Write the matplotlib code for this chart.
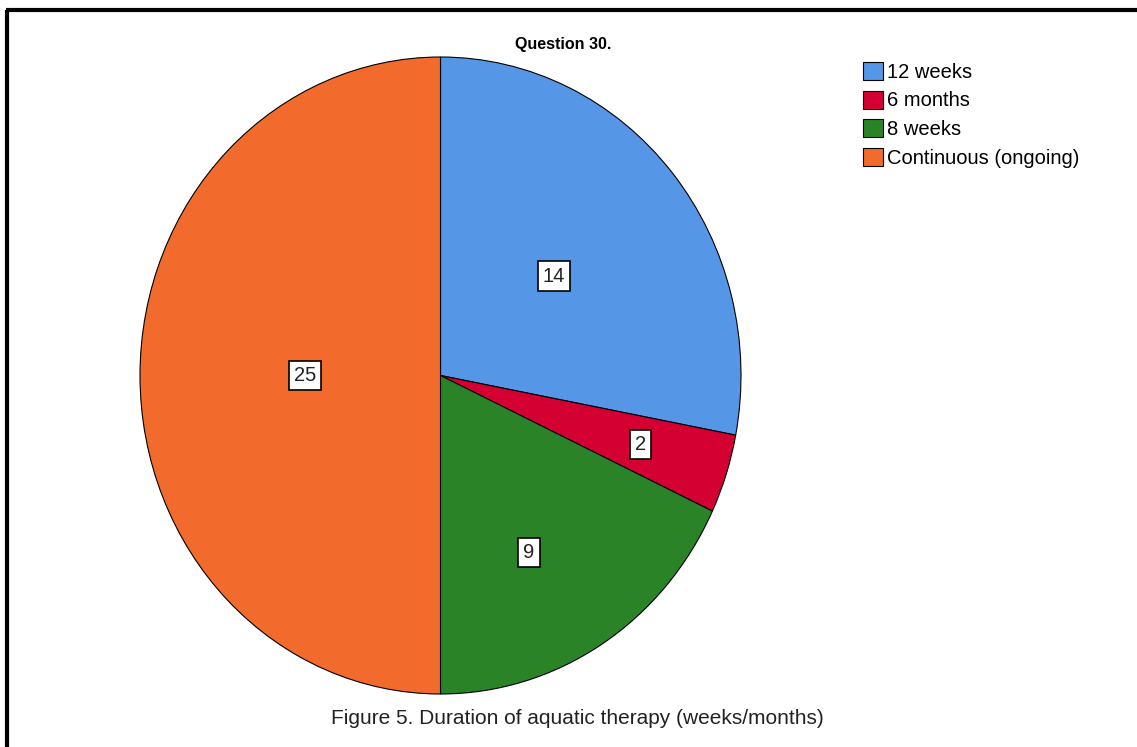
import numpy as np
import matplotlib.pyplot as plt
from matplotlib.patches import Patch

# --- Data ---
categories = ["12 weeks", "6 months", "8 weeks", "Continuous (ongoing)"]
counts = [14, 2, 9, 25]
colors = ["#5596E6", "#D50032", "#2A8427", "#F26A2C"]

# label placement inside slices (radius fraction, angle nudge in degrees)
label_dist = [0.49, 0.70, 0.63, 0.45]
label_nudge = [0, 0, -4.5, 0]

plt.rcParams['font.family'] = ['Liberation Sans', 'DejaVu Sans']

W, H = 1137, 747
fig = plt.figure(figsize=(W / 100, H / 100), dpi=100)

# pie area in pixel coords (slightly taller than wide, as in the original)
ax = fig.add_axes([140 / W, (H - 694) / H, 601 / W, 637 / H])
wedges, _ = ax.pie(counts, colors=colors, startangle=90, counterclock=False,
                   wedgeprops=dict(edgecolor='black', linewidth=0.8))
ax.set_aspect('auto')
ax.set_xlim(-1, 1)
ax.set_ylim(-1, 1)
ax.axis('off')

# boxed count labels inside each slice
for w, n, d, nd in zip(wedges, counts, label_dist, label_nudge):
    ang = np.deg2rad((w.theta1 + w.theta2) / 2 + nd)
    ax.text(d * np.cos(ang), d * np.sin(ang), str(n), ha='center', va='center',
            fontsize=14.5, color='#222222',
            bbox=dict(boxstyle='square,pad=0.25', facecolor='white',
                      edgecolor='black', linewidth=1.2))

fig.text(563 / W, 1 - 44 / H, "Question 30.", ha='center', va='center',
         fontsize=11.5, fontweight='bold')
fig.text(577 / W, 1 - 719 / H, "Figure 5. Duration of aquatic therapy (weeks/months)",
         ha='center', va='center', fontsize=15, color='#222222')

handles = [Patch(facecolor=c, edgecolor='black', linewidth=0.8) for c in colors]
fig.legend(handles, categories, loc='upper left', bbox_to_anchor=(863 / W, 1 - 62 / H),
           frameon=False, fontsize=14.5, handlelength=1.0, handleheight=1.0,
           handletextpad=0.2, labelspacing=0.43, borderpad=0, borderaxespad=0)

# partial frame (left and top edges)
fig.add_artist(plt.Line2D([7 / W, 7 / W], [0, 1 - 10 / H], color='black', linewidth=3,
                          solid_capstyle='butt'))
fig.add_artist(plt.Line2D([5.5 / W, 1], [1 - 10 / H, 1 - 10 / H], color='black', linewidth=3,
                          solid_capstyle='butt'))

fig.savefig("out.png", dpi=100)
